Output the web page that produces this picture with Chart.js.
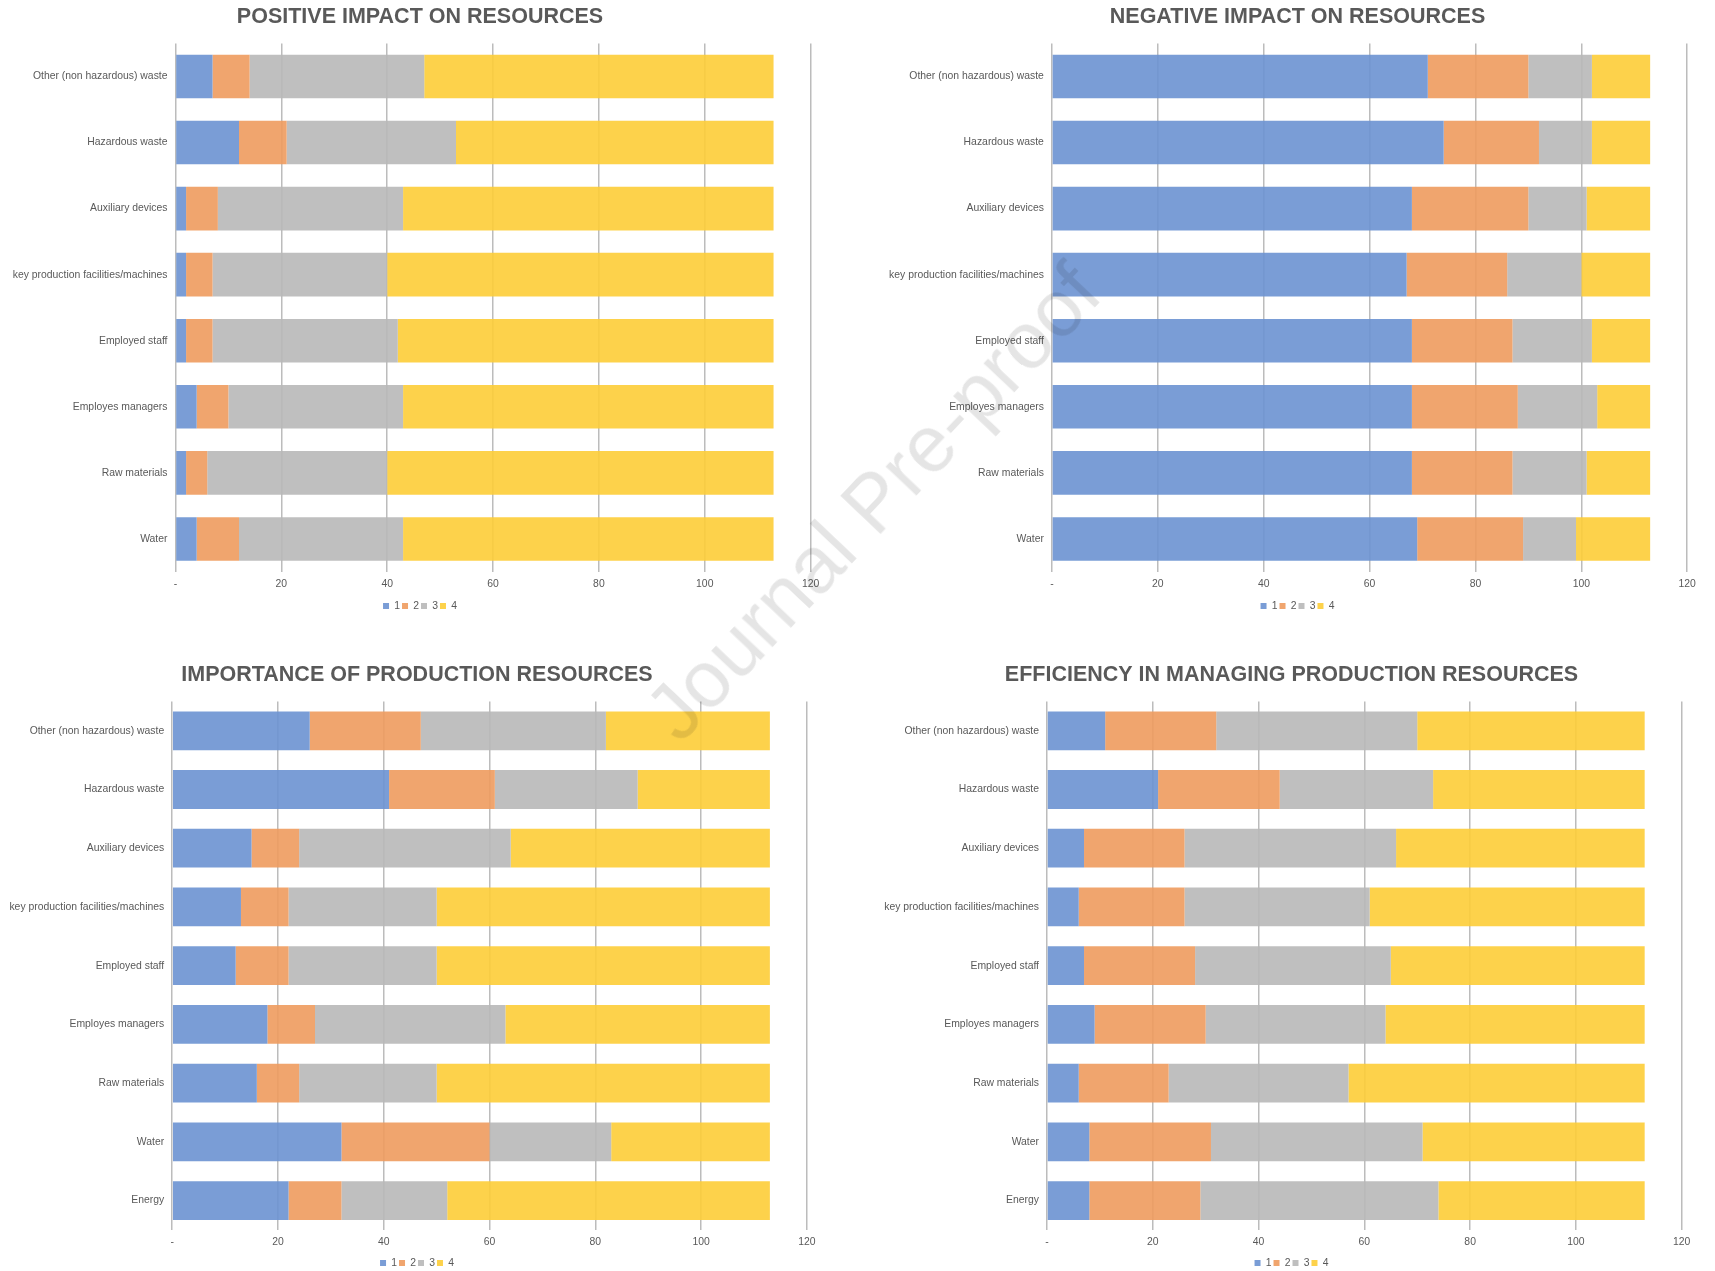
<!DOCTYPE html>
<html>
<head>
<meta charset="utf-8">
<script src="https://cdn.jsdelivr.net/npm/chart.js@4.4.1/dist/chart.umd.min.js"></script>
<style>
  html, body { margin: 0; padding: 0; background: #ffffff; overflow: hidden; }
  body { width: 1715px; height: 1271px; position: relative; }
  canvas { position: absolute; }
  #stamp {
    position: absolute; left: 873px; top: 502px;
    transform: translate(-50%, -50%) rotate(-46.5deg);
    font-family: "Liberation Sans", Arial, sans-serif; font-size: 80px;
    color: rgba(0, 0, 0, 0.10); white-space: nowrap; pointer-events: none;
  }
</style>
</head>
<body>
<canvas id="cPositive" width="845" height="630" style="left:0px;top:0px"></canvas>
<canvas id="cNegative" width="855" height="630" style="left:860px;top:0px"></canvas>
<canvas id="cImportance" width="845" height="640" style="left:0px;top:640px"></canvas>
<canvas id="cEfficiency" width="855" height="640" style="left:860px;top:640px"></canvas>
<div id="stamp">Journal Pre-proof</div>
<script>
// Resource categories (top to bottom)
const impactCategories = [
  'Other (non hazardous) waste', 'Hazardous waste', 'Auxiliary devices',
  'key production facilities/machines', 'Employed staff', 'Employes managers',
  'Raw materials', 'Water'
];
const resourceCategories = impactCategories.concat(['Energy']);

// Rating levels
const ratingLabels = ['1', '2', '3', '4'];

// Positive impact on resources — respondents per rating
const positive1 = [7, 12, 2, 2, 2, 4, 2, 4];
const positive2 = [7, 9, 6, 5, 5, 6, 4, 8];
const positive3 = [33, 32, 35, 33, 35, 33, 34, 31];
const positive4 = [66, 60, 70, 73, 71, 70, 73, 70];

// Negative impact on resources
const negative1 = [71, 74, 68, 67, 68, 68, 68, 69];
const negative2 = [19, 18, 22, 19, 19, 20, 19, 20];
const negative3 = [12, 10, 11, 14, 15, 15, 14, 10];
const negative4 = [11, 11, 12, 13, 11, 10, 12, 14];

// Importance of production resources
const importance1 = [26, 41, 15, 13, 12, 18, 16, 32, 22];
const importance2 = [21, 20, 9, 9, 10, 9, 8, 28, 10];
const importance3 = [35, 27, 40, 28, 28, 36, 26, 23, 20];
const importance4 = [31, 25, 49, 63, 63, 50, 63, 30, 61];

// Efficiency in managing production resources
const efficiency1 = [11, 21, 7, 6, 7, 9, 6, 8, 8];
const efficiency2 = [21, 23, 19, 20, 21, 21, 17, 23, 21];
const efficiency3 = [38, 29, 40, 35, 37, 34, 34, 40, 45];
const efficiency4 = [43, 40, 47, 52, 48, 49, 56, 42, 39];

// Axis range and ticks
const xMin = 0, xMax = 120, xStep = 20;

const seriesColors = [
  'rgba(108,146,209,0.9)',
  'rgba(238,155,94,0.9)',
  'rgba(184,184,184,0.9)',
  'rgba(253,205,55,0.9)'
];

const textGray = '#595959';
Chart.defaults.font.family = '"Liberation Sans", Arial, sans-serif';
Chart.defaults.color = textGray;

// box: pl/pr/pb = layout padding, yw = category axis width,
// rw = empty spacer on the right (keeps title and legend centred on the panel),
// xh = value axis height, tt/tb = title padding
function makeChart(id, title, labels, series, box) {
  const datasets = series.map((values, i) => ({
    label: ratingLabels[i],
    data: values,
    backgroundColor: seriesColors[i],
    borderWidth: 0,
    barPercentage: 0.66,
    categoryPercentage: 1.0
  }));
  return new Chart(document.getElementById(id), {
    type: 'bar',
    data: { labels: labels, datasets: datasets },
    options: {
      indexAxis: 'y',
      responsive: false,
      animation: false,
      devicePixelRatio: 1,
      layout: { padding: { left: box.pl, right: box.pr, top: 0, bottom: box.pb } },
      scales: {
        x: {
          stacked: true,
          min: xMin, max: xMax,
          grid: { color: '#bcbcbc', lineWidth: 1.5, drawTicks: false },
          border: { display: false },
          ticks: {
            stepSize: xStep,
            padding: 6,
            color: textGray,
            font: { size: 10.4 },
            callback: (v) => (v === 0 ? '-' : v)
          },
          afterFit: (scale) => { scale.height = box.xh; }
        },
        y: {
          stacked: true,
          grid: { display: false, drawTicks: false },
          border: { display: false },
          ticks: { padding: 8, color: textGray, font: { size: 10.4 }, autoSkip: false },
          afterFit: (scale) => { scale.width = box.yw; }
        },
        spacer: {
          type: 'category',
          position: 'right',
          grid: { display: false, drawTicks: false },
          border: { display: false },
          ticks: { display: false },
          afterFit: (scale) => { scale.width = box.rw; }
        }
      },
      plugins: {
        title: {
          display: true,
          text: title,
          color: textGray,
          font: { size: 21.5, weight: 'bold' },
          padding: { top: box.tt, bottom: box.tb }
        },
        legend: {
          position: 'bottom',
          labels: { boxWidth: 6, boxHeight: 6, padding: 2, color: textGray, font: { size: 10.4 } }
        },
        tooltip: { enabled: false }
      }
    }
  });
}

makeChart('cPositive', 'POSITIVE IMPACT ON RESOURCES', impactCategories,
  [positive1, positive2, positive3, positive4],
  { pl: 5.5, pr: 10.5, pb: 8.8, yw: 170, rw: 23.9, xh: 26.8, tt: 4.5, tb: 13.1 });

makeChart('cNegative', 'NEGATIVE IMPACT ON RESOURCES', impactCategories,
  [negative1, negative2, negative3, negative4],
  { pl: 21.9, pr: 1.9, pb: 8.8, yw: 170, rw: 25.9, xh: 26.8, tt: 4.5, tb: 13.1 });

makeChart('cImportance', 'IMPORTANCE OF PRODUCTION RESOURCES', resourceCategories,
  [importance1, importance2, importance3, importance4],
  { pl: 2.2, pr: 13.2, pb: 1.8, yw: 170, rw: 24.9, xh: 25.8, tt: 22.2, tb: 13.4 });

makeChart('cEfficiency', 'EFFICIENCY IN MANAGING PRODUCTION RESOURCES', resourceCategories,
  [efficiency1, efficiency2, efficiency3, efficiency4],
  { pl: 17, pr: 9.0, pb: 1.8, yw: 170, rw: 24.3, xh: 25.8, tt: 22.2, tb: 13.4 });
</script>
</body>
</html>
